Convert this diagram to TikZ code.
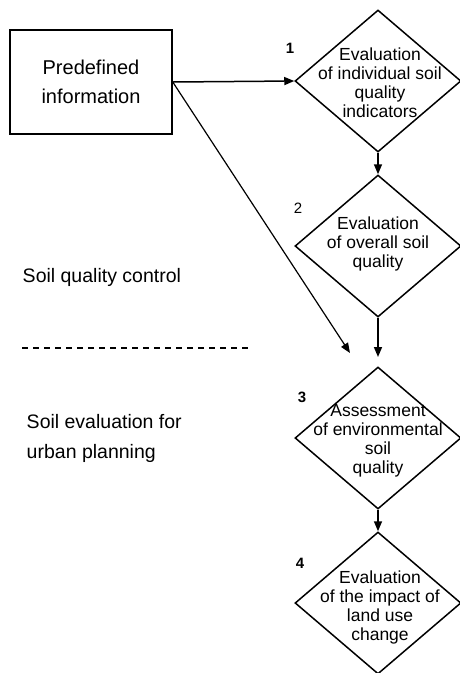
\documentclass[tikz,border=0pt]{standalone}
\usepackage{fontspec}
\setmainfont{Liberation Sans}
\usetikzlibrary{shapes.geometric,arrows.meta}
\begin{document}
\begin{tikzpicture}[x=1pt,y=-1pt,
  line width=1.5pt,
  box/.style={draw,rectangle,minimum width=162pt,minimum height=104pt,inner sep=0pt},
  dia/.style={draw,diamond,minimum width=166pt,minimum height=142pt,inner sep=0pt},
  dtext/.style={align=center,font=\fontsize{17.5}{19}\selectfont,inner sep=0pt},
  side/.style={align=left,anchor=west,font=\fontsize{19.5}{30}\selectfont,inner sep=0pt},
  num/.style={font=\fontsize{15}{16}\selectfont,inner sep=0pt},
  bnum/.style={num,font=\fontsize{15}{16}\selectfont\bfseries},
  flow/.style={-{Triangle[length=10pt,width=8pt]}}]
\useasboundingbox (0,0) rectangle (459,673);

% source box
\node[box] (src) at (91,82) {};
\node[align=center,font=\fontsize{20}{29}\selectfont,inner sep=0pt] (srct) at (src) {Predefined\\information};

% four evaluation steps
\node[dia] (d1) at (378,81) {};
\node[dia] (d2) at (378,246) {};
\node[dia] (d3) at (378,438) {};
\node[dia] (d4) at (378,603) {};

\node[dtext] (t1) at (380,83) {Evaluation\\of individual soil\\quality\\indicators};
\node[dtext] (t2) at (378,244) {Evaluation\\of overall soil\\quality};
\node[dtext] (t3) at (378,441) {Assessment\\of environmental\\soil\\quality};
\node[dtext] (t4) at (380,607) {Evaluation\\of the impact of\\land use\\change};

% step numbers
\node[bnum] (n1) at (290,48) {1};
\node[num] (n2) at (298,208) {2};
\node[bnum] (n3) at (302,397) {3};
\node[bnum] (n4) at (300,563) {4};

% side captions and divider
\node[side] (c1) at (22,277) {Soil quality control};
\node[side] (c2) at (26,438) {Soil evaluation for\\urban planning};
\coordinate (divl) at (22,348);
\coordinate (divr) at (250,348);
\draw[line width=1.1pt,dash pattern=on 6pt off 5pt] (divl) -- (divr);

% connectors
\coordinate (diagend) at (350,353);
\coordinate (d2end) at (378,357);
\draw[flow] (src.east) -- (d1.west);
\draw[flow,line width=1.2pt] (src.east) -- (diagend);
\draw[flow] (d1.south) -- (d2.north);
\draw[flow] (d2.south) -- (d2end);
\draw[flow] (d3.south) -- (d4.north);
\end{tikzpicture}
\end{document}
